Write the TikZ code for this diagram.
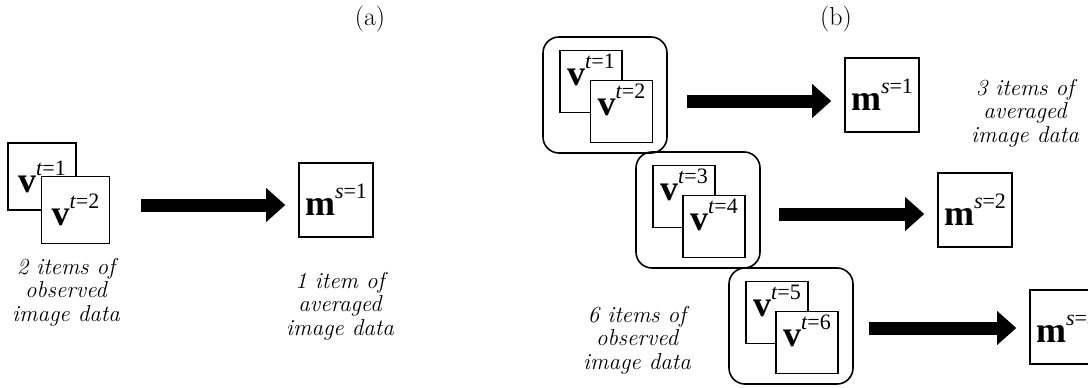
\documentclass[tikz,border=0pt]{standalone}
\usepackage{fontspec}
\newfontfamily\tmsfont{Liberation Serif}
\usetikzlibrary{arrows.meta}
\newcommand{\vsym}[1]{{\tmsfont\fontsize{36}{36}\selectfont\bfseries v\raisebox{17pt}{\fontsize{22}{22}\selectfont\mdseries\itshape t\upshape=#1}}}
\newcommand{\msym}[1]{{\tmsfont\fontsize{36}{36}\selectfont\bfseries m\raisebox{17pt}{\fontsize{22}{22}\selectfont\mdseries\itshape s\upshape=#1}}}
\tikzset{
  boxbase/.style={draw, line width=1.6pt, fill=white, inner sep=0pt},
  vboxA/.style={boxbase, minimum width=68pt, minimum height=67pt},
  vboxB/.style={boxbase, minimum size=62pt, text height=32pt, text depth=24pt},
  mbox/.style={boxbase, minimum size=74pt},
  group/.style={draw, line width=1.6pt, rounded corners=16pt, minimum width=124pt, minimum height=116pt, inner sep=0pt},
  lab/.style={font=\itshape\fontsize{23}{23.5}\selectfont, align=center, inner sep=0pt},
  panel/.style={font=\fontsize{26}{28}\selectfont, inner sep=0pt},
  blockarrow/.style={line width=13pt, -{Triangle[length=19pt,width=34pt,line width=0pt]}, shorten >=13pt}
}
\begin{document}
\begin{tikzpicture}[x=1pt,y=-1pt]
\clip (0,0) rectangle (1088,388);
\fill[white] (0,0) rectangle (1088,388);
% panel (a)
\node[panel] (pa) at (370,19) {(a)};
\node[vboxA] (va1) at (42,176.5) {\vsym{1}};
\node[vboxA] (va2) at (75.5,210) {\vsym{2}};
\node[mbox] (ma) at (336,200) {\msym{1}};
\coordinate (as) at (141,205);
\draw[blockarrow] (as) -- (as -| ma.west);
\node[lab] (la1) at (66,292) {2 items of\\observed\\image data};
\node[lab] (la2) at (340,306) {1 item of\\averaged\\image data};
% panel (b)
\node[panel] (pb) at (836,19) {(b)};
\node[group] (g1) at (605,95) {};
\node[group] (g2) at (698,210) {};
\node[group] (g3) at (791,326) {};
\node[vboxB] (vb1) at (591,81.5) {\vsym{1}};
\node[vboxB] (vb2) at (621.5,111.5) {\vsym{2}};
\node[vboxB] (vb3) at (684,196.5) {\vsym{3}};
\node[vboxB] (vb4) at (714,226.5) {\vsym{4}};
\node[vboxB] (vb5) at (777,312.5) {\vsym{5}};
\node[vboxB] (vb6) at (807,342.5) {\vsym{6}};
\node[mbox] (mb1) at (882,95) {\msym{1}};
\node[mbox] (mb2) at (975,210) {\msym{2}};
\node[mbox] (mb3) at (1067,327) {\msym{3}};
\coordinate (bs1) at (687,101);
\coordinate (bs2) at (779,214);
\coordinate (bs3) at (869,328);
\draw[blockarrow] (bs1) -- (bs1 -| mb1.west);
\draw[blockarrow] (bs2) -- (bs2 -| mb2.west);
\draw[blockarrow] (bs3) -- (bs3 -| mb3.west);
\node[lab] (lb1) at (1025,113) {3 items of\\averaged\\image data};
\node[lab] (lb2) at (637,340) {6 items of\\observed\\image data};
\end{tikzpicture}
\end{document}
